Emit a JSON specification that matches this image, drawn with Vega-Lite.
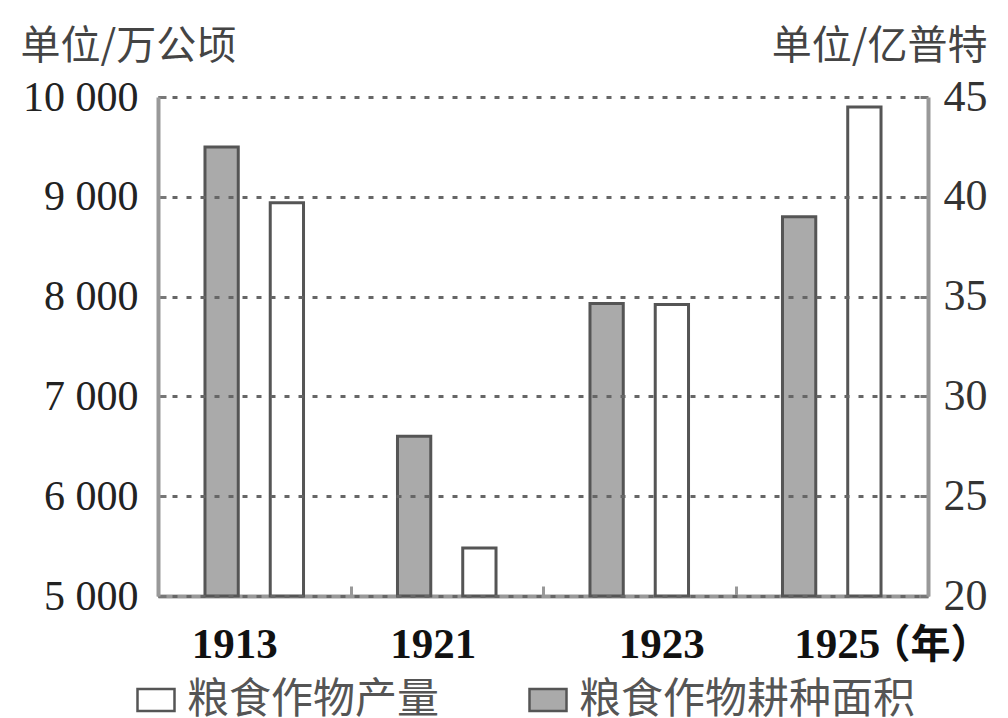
{
  "$schema": "https://vega.github.io/schema/vega-lite/v6.json",
  "width": 770,
  "height": 499,
  "autosize": {"type": "none"},
  "padding": {"left": 158, "top": 97, "right": 80, "bottom": 122},
  "background": "white",
  "config": {"view": {"stroke": null}, "font": "Liberation Serif"},
  "data": {
    "values": [
      {"year": "1913", "series": "粮食作物耕种面积", "value": 9500},
      {"year": "1913", "series": "粮食作物产量", "value": 39.7},
      {"year": "1921", "series": "粮食作物耕种面积", "value": 6600},
      {"year": "1921", "series": "粮食作物产量", "value": 22.4},
      {"year": "1923", "series": "粮食作物耕种面积", "value": 7930},
      {"year": "1923", "series": "粮食作物产量", "value": 34.6},
      {"year": "1925", "series": "粮食作物耕种面积", "value": 8800},
      {"year": "1925", "series": "粮食作物产量", "value": 44.5}
    ]
  },
  "encoding": {
    "x": {
      "field": "year",
      "type": "nominal",
      "scale": {"paddingInner": 0, "paddingOuter": 0},
      "axis": {
        "orient": "bottom",
        "labelAngle": 0,
        "domainColor": "#999999",
        "domainWidth": 4,
        "ticks": true,
        "tickBand": "extent",
        "tickSize": -10,
        "tickColor": "#999999",
        "tickWidth": 3,
        "labelFont": "Liberation Serif",
        "labelFontSize": 43,
        "labelFontWeight": "bold",
        "labelColor": "#111111",
        "labelBaseline": "alphabetic",
        "labelPadding": 71,
        "labelOffset": {"expr": "datum.value == '1913' ? -20 : datum.value == '1921' ? -14 : datum.value == '1923' ? 22 : 5"},
        "title": "（年）",
        "titleFont": "Noto Sans CJK SC",
        "titleFontSize": 40,
        "titleFontWeight": "bold",
        "titleColor": "#111111",
        "titleAlign": "left",
        "titleBaseline": "alphabetic",
        "titleAnchor": null,
        "titleX": 712,
        "titleY": 61
      }
    },
    "xOffset": {
      "field": "series",
      "type": "nominal",
      "scale": {"domain": ["粮食作物耕种面积", "粮食作物产量"], "paddingInner": 0.49, "paddingOuter": 0.72}
    },
    "fill": {
      "field": "series",
      "type": "nominal",
      "scale": {"domain": ["粮食作物产量", "粮食作物耕种面积"], "range": ["#ffffff", "#aaaaaa"]},
      "legend": {
        "orient": "none",
        "legendX": -23,
        "legendY": 582,
        "direction": "horizontal",
        "title": null,
        "symbolType": "M-1,-0.6H1V0.6H-1Z",
        "symbolSize": 1369,
        "symbolStrokeColor": "#555555",
        "symbolStrokeWidth": 2.5,
        "labelFont": "Noto Sans CJK SC",
        "labelFontSize": 42,
        "labelColor": "#555555",
        "labelLimit": 600,
        "labelOffset": 10,
        "columnPadding": 84
      }
    }
  },
  "layer": [
    {
      "transform": [{"filter": "datum.series === '粮食作物耕种面积'"}],
      "mark": {"type": "bar", "stroke": "#555555", "strokeWidth": 3},
      "encoding": {
        "y": {
          "field": "value",
          "type": "quantitative",
          "scale": {"domain": [5000, 10000], "nice": false, "zero": false},
          "axis": {
            "orient": "left",
            "values": [5000, 6000, 7000, 8000, 9000, 10000],
            "zindex": 1,
            "grid": true,
            "gridDash": [5, 9],
            "gridColor": "#666666",
            "gridWidth": 3,
            "domainColor": "#999999",
            "domainWidth": 4,
            "ticks": true,
            "tickSize": -8,
            "tickColor": "#777777",
            "tickWidth": 3,
            "labelFont": "Liberation Serif",
            "labelFontSize": 42,
            "labelColor": "#222222",
            "labelPadding": 28,
            "labelExpr": "replace(format(datum.value, ','), ',', ' ')",
            "title": "单位/万公顷",
            "titleFont": "Noto Sans CJK SC",
            "titleFontSize": 40,
            "titleFontWeight": "normal",
            "titleColor": "#444444",
            "titleAngle": 0,
            "titleAlign": "left",
            "titleBaseline": "middle",
            "titleAnchor": null,
            "titleX": -138,
            "titleY": -51
          }
        },
        "y2": {"datum": 5000}
      }
    },
    {
      "transform": [{"filter": "datum.series === '粮食作物产量'"}],
      "mark": {"type": "bar", "stroke": "#555555", "strokeWidth": 3},
      "encoding": {
        "y": {
          "field": "value",
          "type": "quantitative",
          "scale": {"domain": [20, 45], "nice": false, "zero": false},
          "axis": {
            "orient": "right",
            "values": [20, 25, 30, 35, 40, 45],
            "zindex": 1,
            "grid": false,
            "domainColor": "#999999",
            "domainWidth": 4,
            "ticks": true,
            "tickSize": -8,
            "tickColor": "#777777",
            "tickWidth": 3,
            "labelFont": "Liberation Serif",
            "labelFontSize": 44,
            "labelColor": "#333333",
            "labelPadding": 23,
            "title": "单位/亿普特",
            "titleFont": "Noto Sans CJK SC",
            "titleFontSize": 40,
            "titleFontWeight": "normal",
            "titleColor": "#444444",
            "titleAngle": 0,
            "titleAlign": "right",
            "titleBaseline": "middle",
            "titleAnchor": null,
            "titleX": 59,
            "titleY": -51
          }
        },
        "y2": {"datum": 20}
      }
    }
  ],
  "resolve": {"scale": {"y": "independent"}, "axis": {"y": "independent"}}
}
